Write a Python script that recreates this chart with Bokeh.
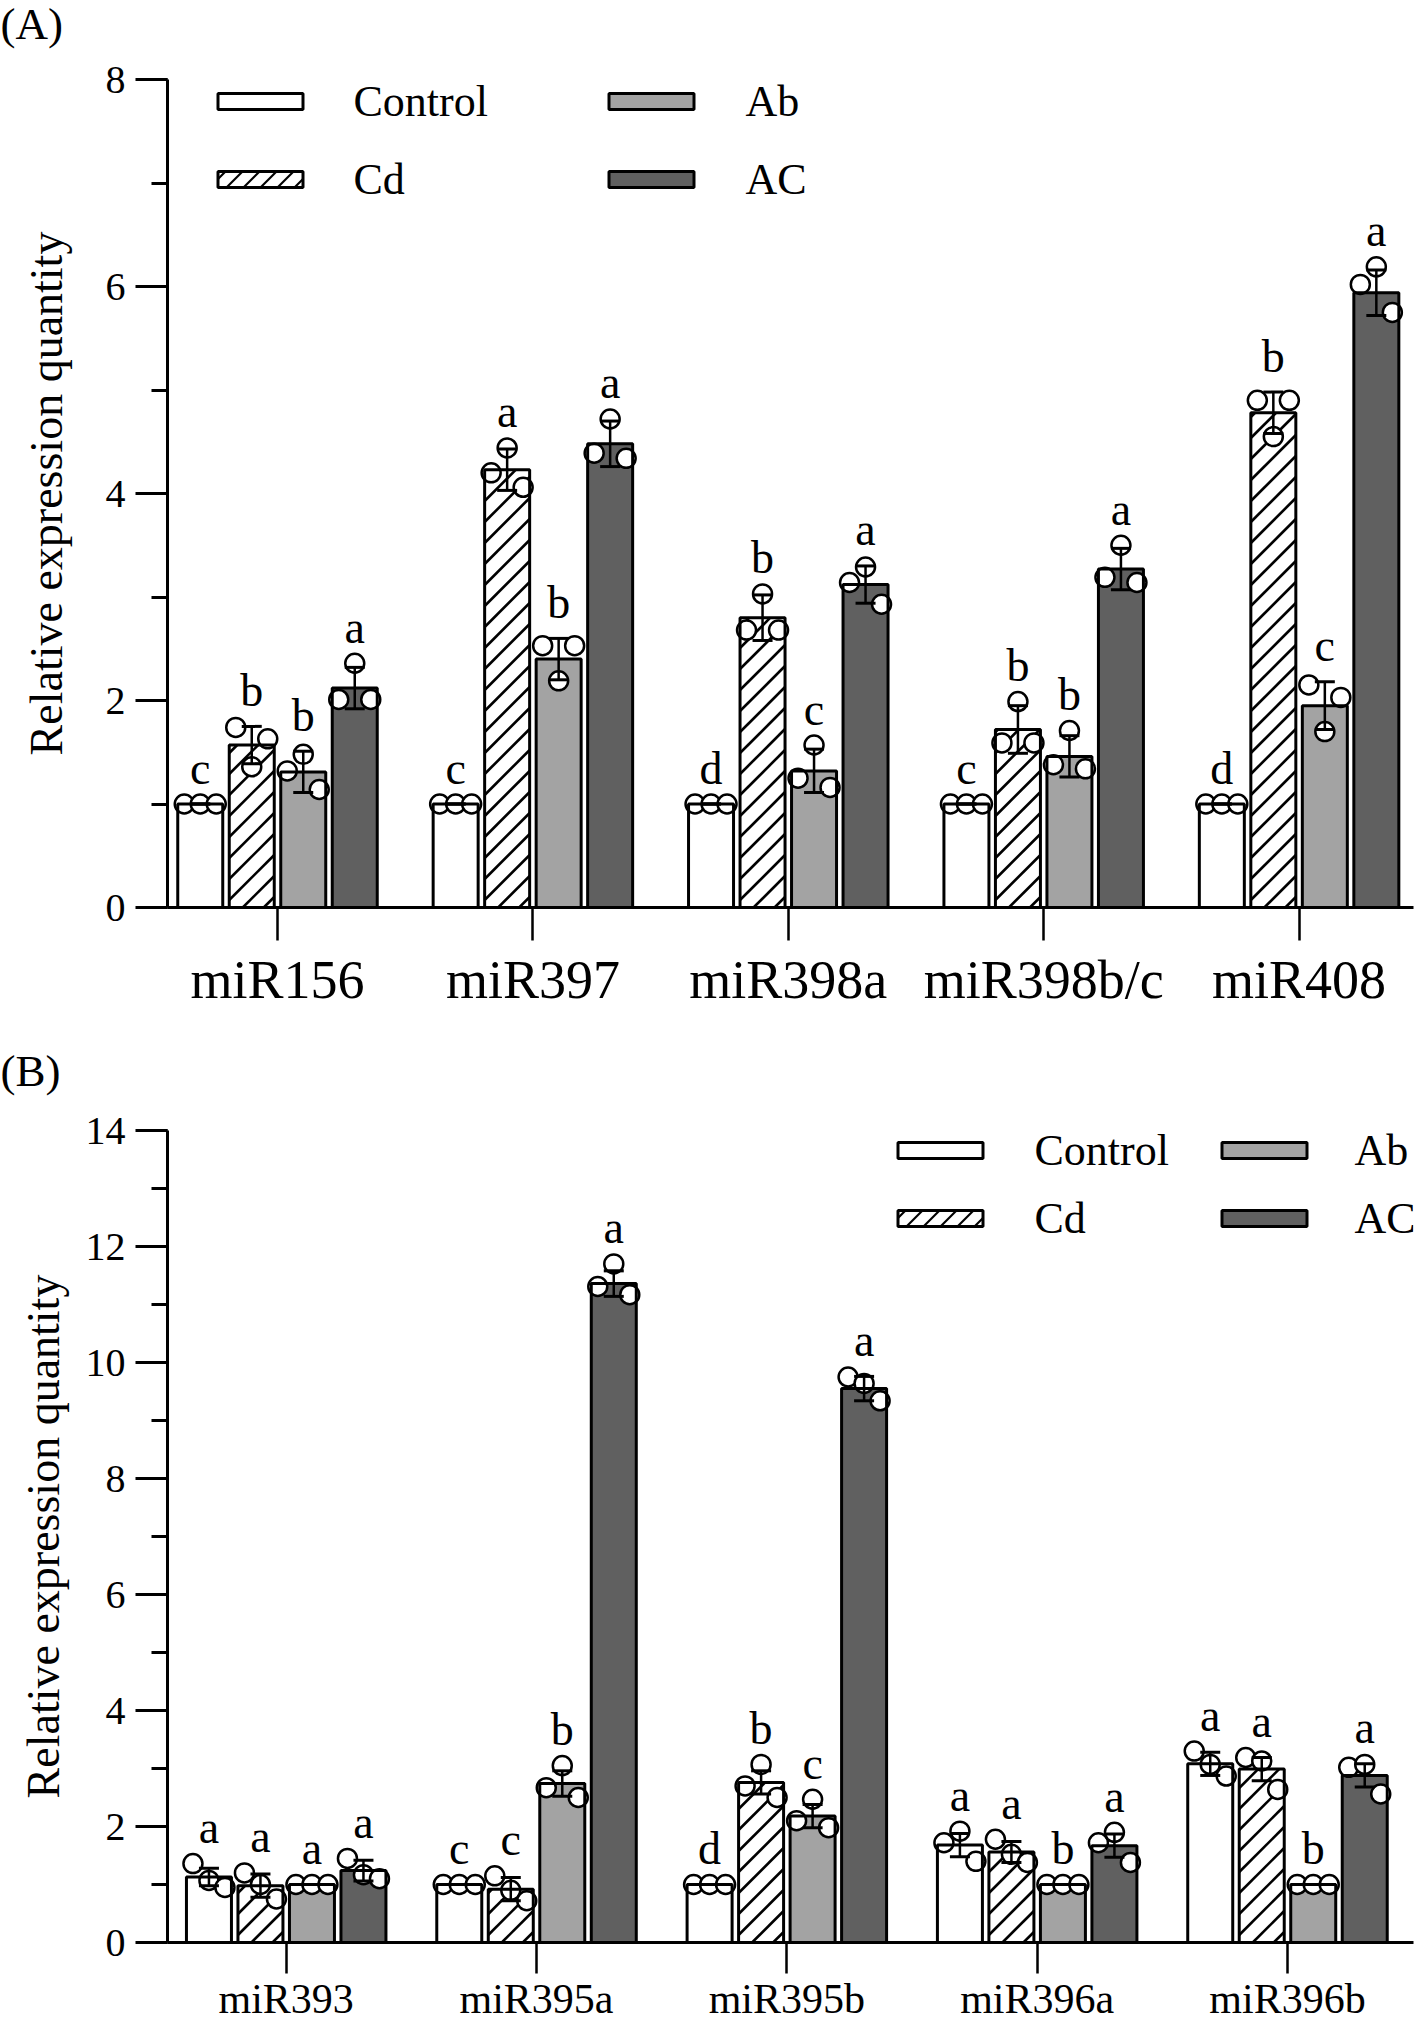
import numpy as np
from bokeh.plotting import figure
from bokeh.models import Range1d, SingleIntervalTicker, FixedTicker, Label
from bokeh.layouts import column
from bokeh.embed import file_html
from bokeh.resources import INLINE
from bokeh.core.properties import value

FONT = "Liberation Serif"

groups = ["Control", "Cd", "Ab", "AC"]

# ---------------- Panel A data ----------------
cats_a = ["miR156", "miR397", "miR398a", "miR398b/c", "miR408"]
ctrl_a_mean = [1.0, 1.0, 1.0, 1.0, 1.0]
cd_a_mean = [1.57, 4.23, 2.80, 1.72, 4.78]
ab_a_mean = [1.31, 2.40, 1.32, 1.46, 1.95]
ac_a_mean = [2.12, 4.48, 3.12, 3.27, 5.94]
ctrl_a_sd = [0, 0, 0, 0, 0]
cd_a_sd = [0.18, 0.20, 0.22, 0.23, 0.20]
ab_a_sd = [0.20, 0.20, 0.21, 0.20, 0.23]
ac_a_sd = [0.20, 0.22, 0.18, 0.20, 0.22]
ctrl_a_pts = [[1, 1, 1], [1, 1, 1], [1, 1, 1], [1, 1, 1], [1, 1, 1]]
cd_a_pts = [[1.74, 1.36, 1.63], [4.20, 4.44, 4.06], [2.68, 3.03, 2.68], [1.59, 1.99, 1.59], [4.90, 4.55, 4.90]]
ab_a_pts = [[1.32, 1.48, 1.14], [2.53, 2.19, 2.53], [1.25, 1.57, 1.16], [1.38, 1.71, 1.34], [2.15, 1.70, 2.03]]
ac_a_pts = [[2.01, 2.36, 2.01], [4.39, 4.72, 4.34], [3.14, 3.29, 2.93], [3.19, 3.50, 3.14], [6.02, 6.19, 5.75]]
ctrl_a_let = ["c", "c", "d", "c", "d"]
cd_a_let = ["b", "a", "b", "b", "b"]
ab_a_let = ["b", "b", "c", "b", "c"]
ac_a_let = ["a", "a", "a", "a", "a"]

# ---------------- Panel B data ----------------
cats_b = ["miR393", "miR395a", "miR395b", "miR396a", "miR396b"]
ctrl_b_mean = [1.13, 1.0, 1.0, 1.68, 3.08]
cd_b_mean = [0.98, 0.92, 2.76, 1.56, 2.99]
ab_b_mean = [1.0, 2.74, 2.18, 1.0, 1.0]
ac_b_mean = [1.24, 11.36, 9.55, 1.67, 2.88]
ctrl_b_sd = [0.15, 0, 0, 0.20, 0.20]
cd_b_sd = [0.20, 0.20, 0.20, 0.18, 0.20]
ab_b_sd = [0, 0.22, 0.20, 0, 0]
ac_b_sd = [0.18, 0.22, 0.21, 0.20, 0.20]
ctrl_b_pts = [[1.36, 1.07, 0.95], [1, 1, 1], [1, 1, 1], [1.72, 1.92, 1.40], [3.30, 3.07, 2.87]]
cd_b_pts = [[1.20, 1.00, 0.75], [1.15, 0.90, 0.72], [2.70, 3.07, 2.50], [1.78, 1.52, 1.38], [3.19, 3.13, 2.64]]
ab_b_pts = [[1, 1, 1], [2.67, 3.05, 2.50], [2.10, 2.47, 1.98], [1, 1, 1], [1, 1, 1]]
ac_b_pts = [[1.45, 1.17, 1.10], [11.31, 11.70, 11.17], [9.75, 9.64, 9.34], [1.72, 1.90, 1.38], [3.02, 3.07, 2.56]]
ctrl_b_let = ["a", "c", "d", "a", "a"]
cd_b_let = ["a", "c", "b", "a", "a"]
ab_b_let = ["a", "b", "c", "b", "b"]
ac_b_let = ["a", "a", "a", "a", "a"]

# ---------------- styles ----------------
FILLS = ["white", "white", "#a3a3a3", "#606060"]
HATCHED = [False, True, False, False]
FIG_W = 1416
LEFT = 167
RIGHT = 3


def hatch_segments(xl, w, yb, h, ppu_x, ppu_y, step):
    """45-degree '/' hatch lines clipped to a rectangle (data coords in, data coords out)."""
    Wp, Hp = w * ppu_x, h * ppu_y
    x0s, y0s, x1s, y1s = [], [], [], []
    c = -Wp + step * 0.5
    while c < Hp:
        u0 = max(0.0, -c)
        u1 = min(Wp, Hp - c)
        if u1 > u0:
            x0s.append(xl + u0 / ppu_x); y0s.append(yb + (u0 + c) / ppu_y)
            x1s.append(xl + u1 / ppu_x); y1s.append(yb + (u1 + c) / ppu_y)
        c += step
    return x0s, y0s, x1s, y1s


def make_panel(cats, means, sds, pts, lets, ymax, xr, fig_h, top, bottom,
               cat_font, cat_standoff, tick_out, ylab_standoff, leg, tag, tag_top):
    left, right = LEFT, RIGHT
    p = figure(width=FIG_W, height=fig_h, output_backend="svg", toolbar_location=None,
               x_range=Range1d(*xr), y_range=Range1d(0, ymax),
               min_border_left=left, min_border_top=top, min_border_bottom=bottom,
               min_border_right=right)
    p.outline_line_color = None
    p.xgrid.grid_line_color = None
    p.ygrid.grid_line_color = None
    p.background_fill_color = "white"
    p.border_fill_color = "white"

    frame_w = FIG_W - left - right
    ppu_x = frame_w / (xr[1] - xr[0])
    frame_h = fig_h - top - bottom
    ppu_y = frame_h / ymax
    bw = 45.0 / ppu_x
    pitch = 51.5 / ppu_x
    jit = 16.0 / ppu_x
    idx = np.arange(len(cats))

    # bar fills (+ hatch)
    for j in range(4):
        xs = idx + (j - 1.5) * pitch
        p.vbar(x=xs, top=means[j], width=bw, bottom=0, fill_color=FILLS[j], line_color=None)
        if HATCHED[j]:
            hx0, hy0, hx1, hy1 = [], [], [], []
            for i in range(len(cats)):
                a, b, c_, d = hatch_segments(xs[i] - bw / 2, bw, 0.0, means[j][i], ppu_x, ppu_y, 21.0)
                hx0 += a; hy0 += b; hx1 += c_; hy1 += d
            p.segment(x0=hx0, y0=hy0, x1=hx1, y1=hy1, line_color="black", line_width=2.6)

    # replicate points
    for j in range(4):
        xs = idx + (j - 1.5) * pitch
        px, py = [], []
        for i in range(len(cats)):
            for k, v in enumerate(pts[j][i]):
                px.append(xs[i] + (k - 1) * jit)
                py.append(v)
        p.scatter(px, py, marker="circle", size=19, fill_color="white",
                  line_color="black", line_width=2.5)

    # bar outlines
    for j in range(4):
        xs = idx + (j - 1.5) * pitch
        p.vbar(x=xs, top=means[j], width=bw, bottom=0, fill_color=None,
               line_color="black", line_width=3)

    # error bars + letters
    for j in range(4):
        xs = idx + (j - 1.5) * pitch
        m = np.array(means[j], dtype=float)
        s = np.array(sds[j], dtype=float)
        p.segment(x0=xs, y0=m - s, x1=xs, y1=m + s, line_color="black", line_width=2.5)
        p.scatter(np.concatenate([xs, xs]), np.concatenate([m - s, m + s]), marker="dash",
                  size=20, line_color="black", line_width=3)
        topv = [max(m[i] + s[i], max(pts[j][i])) + 36.0 / ppu_y for i in range(len(cats))]
        p.text(x=xs, y=topv, text=lets[j], text_font=value(FONT), text_font_size="46px",
               text_align="center", text_baseline="alphabetic", text_color="black")

    # axes
    p.xaxis.ticker = FixedTicker(ticks=list(range(len(cats))))
    p.xaxis.major_label_overrides = {i: c for i, c in enumerate(cats)}
    p.xaxis.major_tick_out = tick_out
    p.xaxis.major_tick_in = 0
    p.xaxis.minor_tick_line_color = None
    p.xaxis.axis_line_width = 3
    p.xaxis.major_tick_line_width = 2.5
    p.xaxis.major_label_text_font = FONT
    p.xaxis.major_label_text_font_size = cat_font
    p.xaxis.major_label_text_color = "black"
    p.xaxis.major_label_standoff = cat_standoff

    p.yaxis.ticker = SingleIntervalTicker(interval=2, num_minor_ticks=2)
    p.yaxis.major_tick_out = 32
    p.yaxis.major_tick_in = 0
    p.yaxis.minor_tick_out = 16
    p.yaxis.minor_tick_in = 0
    p.yaxis.axis_line_width = 3
    p.yaxis.major_tick_line_width = 3
    p.yaxis.minor_tick_line_width = 3
    p.yaxis.major_label_text_font = FONT
    p.yaxis.major_label_text_font_size = "40px"
    p.yaxis.major_label_text_color = "black"
    p.yaxis.major_label_standoff = 10
    p.yaxis.axis_label = "Relative expression quantity"
    p.yaxis.axis_label_text_font = FONT
    p.yaxis.axis_label_text_font_size = "46px"
    p.yaxis.axis_label_text_font_style = "normal"
    p.yaxis.axis_label_text_color = "black"
    p.yaxis.axis_label_standoff = ylab_standoff

    def dx(v):
        return xr[0] + (v - left) / ppu_x

    def dy(v):
        return ymax - (v - top) / ppu_y

    # legend (pixel positions inside the figure, converted to data)
    (c1_sw, c1_tx, c2_sw, c2_tx, r1, r2) = leg
    sw_x = [dx(c1_sw), dx(c1_sw), dx(c2_sw), dx(c2_sw)]
    sw_y = [dy(r1), dy(r2), dy(r1), dy(r2)]
    t_x = [dx(c1_tx), dx(c1_tx), dx(c2_tx), dx(c2_tx)]
    sw_w, sw_h = 85.0 / ppu_x, 16.0 / ppu_y
    for j in range(4):
        p.rect(x=[sw_x[j]], y=[sw_y[j]], width=sw_w, height=sw_h, fill_color=FILLS[j],
               line_color=None)
        if HATCHED[j]:
            a, b, c_, d = hatch_segments(sw_x[j] - sw_w / 2, sw_w, sw_y[j] - sw_h / 2, sw_h,
                                         ppu_x, ppu_y, 17.0)
            p.segment(x0=a, y0=b, x1=c_, y1=d, line_color="black", line_width=2.2)
        p.rect(x=[sw_x[j]], y=[sw_y[j]], width=sw_w, height=sw_h, fill_color=None,
               line_color="black", line_width=3)
    p.text(x=t_x, y=sw_y, text=groups, text_font=value(FONT), text_font_size="44px",
           text_align="left", text_baseline="middle", text_color="black")

    # panel tag, placed in the top side panel
    p.add_layout(Label(x=-left, y=top - tag_top, x_units="screen", y_units="screen", text=tag,
                       text_font=FONT, text_font_size="45px", text_align="left",
                       text_baseline="top", text_color="black"), "above")
    return p


pA = make_panel(cats_a,
                [ctrl_a_mean, cd_a_mean, ab_a_mean, ac_a_mean],
                [ctrl_a_sd, cd_a_sd, ab_a_sd, ac_a_sd],
                [ctrl_a_pts, cd_a_pts, ab_a_pts, ac_a_pts],
                [ctrl_a_let, cd_a_let, ab_a_let, ac_a_let],
                8, (-0.4307, 4.448), 1040, 79, 133,
                "54px", 9, 33, 31,
                (260, 353, 651, 745, 101, 179), "(A)", -2)

pB = make_panel(cats_b,
                [ctrl_b_mean, cd_b_mean, ab_b_mean, ac_b_mean],
                [ctrl_b_sd, cd_b_sd, ab_b_sd, ac_b_sd],
                [ctrl_b_pts, cd_b_pts, ab_b_pts, ac_b_pts],
                [ctrl_b_let, cd_b_let, ab_b_let, ac_b_let],
                14, (-0.4742, 4.5034), 986, 90, 84,
                "42px", 2, 31, 14,
                (940, 1034, 1264, 1354, 110, 178), "(B)", 5)

layout = column(pA, pB, spacing=0)
open("out.html", "w").write(file_html(layout, INLINE))
